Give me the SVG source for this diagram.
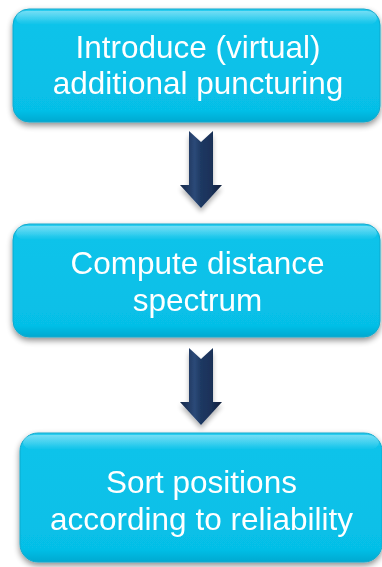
<svg xmlns="http://www.w3.org/2000/svg" width="382" height="567" viewBox="0 0 382 567">
  <style>
    .box { fill: url(#boxFill); stroke: #12a9cc; stroke-width: 1; }
    .gloss { fill: url(#boxGloss); }
    .label { font-family: "Liberation Sans", Arial, sans-serif; font-size: 31.5px; fill: #ffffff; text-anchor: middle; }
    .arrow { fill: url(#arrowFill); filter: url(#arrowShadow); }
  </style>
  <defs>
    <linearGradient id="boxFill" x1="0" y1="0" x2="0" y2="1">
      <stop offset="0" stop-color="#2ccdf0"/>
      <stop offset="0.12" stop-color="#0cc3ea"/>
      <stop offset="0.9" stop-color="#06bfe7"/>
      <stop offset="1" stop-color="#05a9d0"/>
    </linearGradient>
    <linearGradient id="boxGloss" x1="0" y1="0" x2="0" y2="1">
      <stop offset="0" stop-color="#ffffff" stop-opacity="0.35"/>
      <stop offset="1" stop-color="#ffffff" stop-opacity="0"/>
    </linearGradient>
    <linearGradient id="arrowFill" x1="0" y1="0" x2="1" y2="0">
      <stop offset="0" stop-color="#15284a"/>
      <stop offset="0.35" stop-color="#2c4a78"/>
      <stop offset="0.5" stop-color="#1e3862"/>
      <stop offset="0.75" stop-color="#1a3158"/>
      <stop offset="1" stop-color="#101f3c"/>
    </linearGradient>
    <filter id="boxShadow" x="-10%" y="-10%" width="120%" height="130%">
      <feGaussianBlur in="SourceAlpha" stdDeviation="3"/>
      <feOffset dx="0" dy="3" result="blur"/>
      <feComponentTransfer><feFuncA type="linear" slope="0.45"/></feComponentTransfer>
      <feMerge><feMergeNode/><feMergeNode in="SourceGraphic"/></feMerge>
    </filter>
    <filter id="arrowShadow" x="-40%" y="-20%" width="180%" height="150%">
      <feGaussianBlur in="SourceAlpha" stdDeviation="2.5"/>
      <feOffset dx="0" dy="4"/>
      <feComponentTransfer><feFuncA type="linear" slope="0.3"/></feComponentTransfer>
      <feMerge><feMergeNode/><feMergeNode in="SourceGraphic"/></feMerge>
    </filter>
    <path id="downArrow" d="M189,131 L201,142 L213,131 L213,185 L222,185 L201,208 L180,185 L189,185 Z"/>
  </defs>

  <g id="connectors">
    <use href="#downArrow" class="arrow"/>
    <use href="#downArrow" class="arrow" transform="translate(0,217)"/>
  </g>

  <g id="introduce-puncturing" filter="url(#boxShadow)">
    <rect class="box" x="13" y="9" width="367" height="113" rx="16"/>
    <rect class="gloss" x="16" y="11" width="361" height="14" rx="10"/>
    <text class="label" x="198" y="58">Introduce (virtual)</text>
    <text class="label" x="198" y="94">additional puncturing</text>
  </g>

  <g id="compute-spectrum" filter="url(#boxShadow)">
    <rect class="box" x="13" y="224" width="367" height="113" rx="16"/>
    <rect class="gloss" x="16" y="226" width="361" height="14" rx="10"/>
    <text class="label" x="197.5" y="274">Compute distance</text>
    <text class="label" x="197.5" y="311">spectrum</text>
  </g>

  <g id="sort-positions" filter="url(#boxShadow)">
    <rect class="box" x="20" y="433" width="362" height="129" rx="18"/>
    <rect class="gloss" x="23" y="435" width="356" height="15" rx="11"/>
    <text class="label" x="201.5" y="493">Sort positions</text>
    <text class="label" x="201.5" y="530">according to reliability</text>
  </g>
</svg>
